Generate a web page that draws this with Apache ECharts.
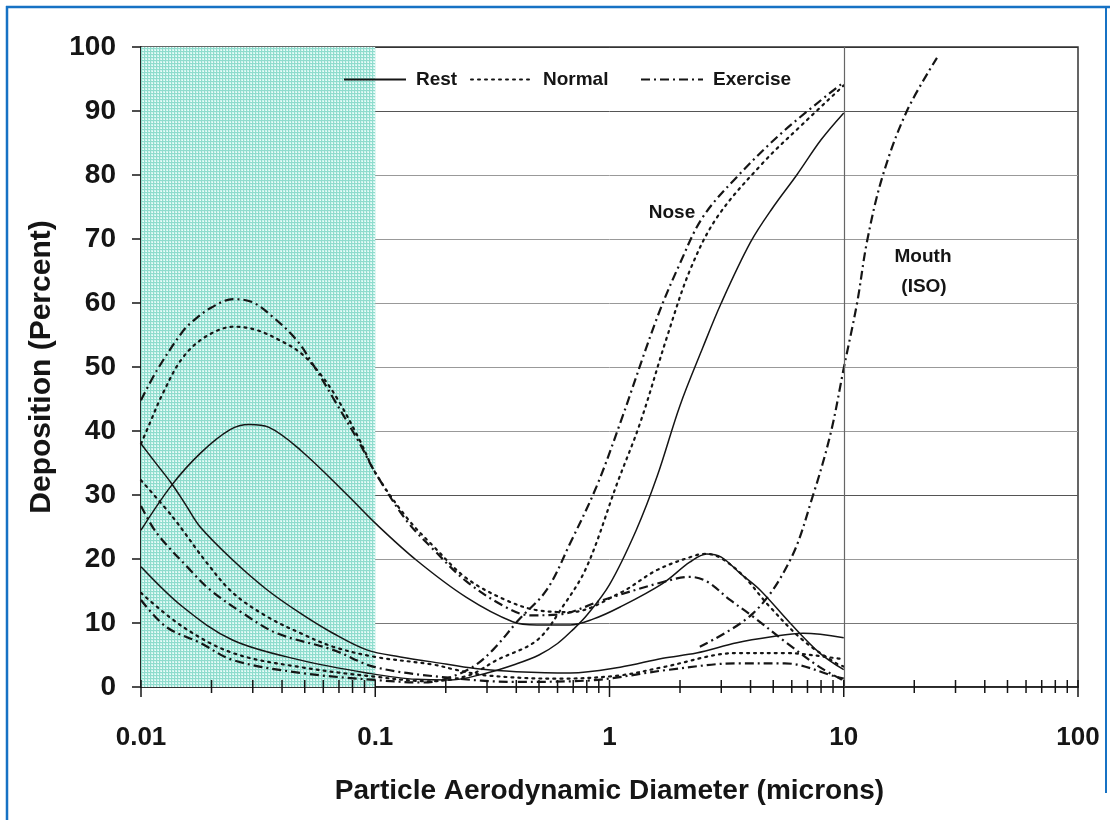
<!DOCTYPE html>
<html><head><meta charset="utf-8">
<script src="https://cdn.jsdelivr.net/npm/echarts@6/dist/echarts.min.js"></script>
<style>html,body{margin:0;padding:0;background:#fff}#c{width:1110px;height:820px}</style>
</head><body><div id="c"></div>
<script>
// ---- tick labels ----
const xTickLabels = ['0.01', '0.1', '1', '10', '100'];
const xMajorTicks = [0.01, 0.1, 1, 10, 100];
const xMinorTicks = [0.02,0.03,0.04,0.05,0.06,0.07,0.08,0.09,
                     0.2,0.3,0.4,0.5,0.6,0.7,0.8,0.9,
                     2,3,4,5,6,7,8,9,
                     20,30,40,50,60,70,80,90];
const legendNames = ['Rest', 'Normal', 'Exercise'];

// ---- data: [diameter (microns), deposition (%)] ----
const lungRest = [[0.01,24.5],[0.0135,31.5],[0.0179,36.5],[0.024,40.2],[0.029,41],[0.035,40.6],[0.048,37],[0.076,30],[0.1,25.6],[0.15,19.8],[0.245,14],[0.386,10.2],[0.49,9.7],[0.68,9.7],[0.85,10.6],[1.11,12.5],[1.69,16.2],[2.2,19.5],[2.6,20.8],[3.0,20.3],[3.6,17.8],[4.38,15.2],[5.9,10],[7.9,5.3],[10,2.7]];
const lungNormal = [[0.01,38],[0.0109,41.2],[0.0124,45.9],[0.0151,51.5],[0.019,54.8],[0.025,56.3],[0.031,55.8],[0.039,54.2],[0.048,52.2],[0.058,49],[0.069,45],[0.086,38.5],[0.1,33.5],[0.136,26.5],[0.177,22],[0.245,17],[0.36,13.6],[0.49,12],[0.68,11.7],[1.11,14.7],[1.6,18.3],[2.35,20.6],[2.6,20.8],[3.5,18.3],[4.84,12.5],[6.7,7.3],[9.3,3.7],[10,3.2]];
const lungExercise = [[0.01,44.8],[0.0117,49.5],[0.0151,55.6],[0.0167,57.2],[0.02,59.3],[0.0247,60.6],[0.03,60.1],[0.0366,57.8],[0.0462,54.2],[0.054,50.5],[0.066,45.2],[0.086,38],[0.1,33.5],[0.136,26],[0.177,21.5],[0.245,16.5],[0.36,12.5],[0.46,11.2],[0.6,11.3],[0.94,13.6],[1.69,16.4],[2.2,17.2],[2.6,16.5],[3.27,13.6],[4.1,11],[5.7,6.9],[7.9,3.1],[10,1]];
const noseRest = [[0.01,18.8],[0.0151,12.5],[0.0247,7.3],[0.048,4.2],[0.092,2.2],[0.15,1.2],[0.21,1.1],[0.3,2.2],[0.4,3.6],[0.5,5.0],[0.6,6.8],[0.7,9.0],[0.8,11.2],[1.0,16],[1.3,24.5],[1.6,33],[2.0,44],[2.5,53],[3.0,60],[4.0,69.5],[5.0,75],[6.3,80],[8.0,85.5],[10,89.7]];
const noseNormal = [[0.01,14.7],[0.0151,9.4],[0.0247,5.3],[0.048,3.1],[0.1,1.6],[0.17,0.9],[0.25,1.8],[0.33,4.2],[0.49,7.3],[0.63,12.5],[0.8,18.8],[1.08,31.9],[1.35,41.2],[1.76,54.7],[2.21,65.2],[2.88,73.4],[4.52,81.9],[6.7,88],[10,94]];
const noseExercise = [[0.01,13.6],[0.0128,9.4],[0.0179,6.9],[0.0247,4.2],[0.048,2.2],[0.1,1.1],[0.16,0.7],[0.2,1.3],[0.26,3.1],[0.318,5.8],[0.41,10.5],[0.54,15.2],[0.68,22.5],[0.88,31.3],[1.11,41.2],[1.6,57.8],[2.0,66.2],[2.5,73.4],[3.5,79.7],[5.6,87],[10,94.5]];
const tracheaRest = [[0.01,38],[0.0115,35.1],[0.0135,31.8],[0.0155,28.5],[0.0179,25],[0.0247,19.8],[0.0345,15.2],[0.048,11.5],[0.066,8.4],[0.092,5.8],[0.128,4.7],[0.2,3.6],[0.28,2.8],[0.4,2.4],[0.68,2.2],[1.11,3.1],[1.69,4.5],[2.35,5.3],[3.5,6.9],[4.84,7.8],[6.7,8.4],[10,7.7]];
const tracheaNormal = [[0.01,32.3],[0.0137,26.5],[0.0191,19.4],[0.0247,14.7],[0.0345,11],[0.048,8.4],[0.066,6.3],[0.1,4.7],[0.177,3.5],[0.22,2.7],[0.3,1.8],[0.6,1.3],[1.1,1.8],[1.69,3.1],[3.5,5.3],[5.6,5.3],[9.3,4.5],[10,4.3]];
const tracheaExercise = [[0.01,28.3],[0.0117,24],[0.0162,18.3],[0.0197,15.2],[0.0273,11.5],[0.038,8.4],[0.066,5.8],[0.1,3.1],[0.2,1.5],[0.4,0.8],[0.8,1],[1.8,2.7],[3.5,3.7],[5.6,3.7],[9.3,1.6],[10,1.3]];
const mouthISO = [[2.43,6.3],[4.1,11.5],[5.9,19.8],[7.4,30],[8.8,39.7],[10,49.8],[11.4,60],[12.6,69.8],[14.7,80],[18.6,90],[25,98.3]];

// ---- styles ----
const FONT = "'Liberation Sans', Arial, sans-serif";
const INK = '#151515';
const styleOf = {
  Rest:     { type: 'solid', width: 1.5 },
  Normal:   { type: [2, 5], width: 2.2, cap: 'round' },
  Exercise: { type: [9, 4, 2, 4], width: 2.2 }
};

function makePattern() {
  const c = document.createElement('canvas');
  c.width = 3; c.height = 3;
  const g = c.getContext('2d');
  g.fillStyle = '#8fdccd'; g.fillRect(0, 0, 3, 3);
  g.fillStyle = '#cff4ee'; g.fillRect(1, 1, 2, 2);
  g.fillStyle = '#effcfa'; g.fillRect(2, 2, 1, 1);
  return c;
}

function lineSeries(name, data) {
  const s = styleOf[name];
  return {
    type: 'line', name: name, data: data, symbol: 'none', showSymbol: false,
    smooth: 0.35, z: 3, silent: true,
    itemStyle: { color: INK },
    lineStyle: { color: INK, width: s.width, type: s.type, cap: s.cap || 'butt' }
  };
}

const chart = echarts.init(document.getElementById('c'), null, { renderer: 'canvas' });

const splitColors = ['#888', '#777', '#999', '#555', '#999', '#999', '#999', '#999', '#999', '#555', '#333'];

const option = {
  animation: false,
  backgroundColor: '#ffffff',
  grid: { left: 141, right: 32, top: 47, bottom: 133, show: true, borderColor: '#333', borderWidth: 1.5, backgroundColor: 'transparent' },
  legend: legendNames.map((n, i) => ({
    data: [n], left: [343, 470, 640][i], top: 70, padding: 0,
    itemWidth: 62, itemHeight: 14, selectedMode: false,
    itemStyle: { color: 'rgba(0,0,0,0)', borderColor: 'rgba(0,0,0,0)', borderWidth: 0, opacity: 0 },
    textStyle: { fontFamily: FONT, fontSize: 19, fontWeight: 'bold', color: INK, padding: [0, 0, 0, 5] }
  })),
  xAxis: {
    type: 'log', logBase: 10, min: 0.01, max: 100,
    name: 'Particle Aerodynamic Diameter (microns)', nameLocation: 'middle', nameGap: 90,
    nameTextStyle: { fontFamily: FONT, fontSize: 28, fontWeight: 'bold', color: INK },
    axisLine: { show: true, lineStyle: { color: INK, width: 1.5 } },
    axisTick: { show: false }, minorTick: { show: false },
    splitLine: { show: false }, minorSplitLine: { show: false },
    axisLabel: {
      margin: 38, fontFamily: FONT, fontSize: 26, fontWeight: 'bold', color: INK,
      formatter: v => { const i = Math.round(Math.log10(v)) + 2; return xTickLabels[i] !== undefined ? xTickLabels[i] : ''; }
    }
  },
  yAxis: {
    type: 'value', min: 0, max: 100, interval: 10,
    name: 'Deposition (Percent)', nameLocation: 'middle', nameGap: 84, nameRotate: 90,
    nameTextStyle: { fontFamily: FONT, fontSize: 30, fontWeight: 'bold', color: INK },
    axisLine: { show: true, lineStyle: { color: INK, width: 1.5 } },
    axisTick: { show: true, length: 9, lineStyle: { color: INK, width: 1.5 } },
    splitLine: { show: true, lineStyle: { color: splitColors, width: 1 } },
    axisLabel: { margin: 25, fontFamily: FONT, fontSize: 28, fontWeight: 'bold', color: INK }
  },
  graphic: [
    { type: 'line', shape: { x1: 7, y1: 6, x2: 7, y2: 820 }, style: { stroke: '#1672c4', lineWidth: 2.5 } },
    { type: 'line', shape: { x1: 6, y1: 7, x2: 1110, y2: 7 }, style: { stroke: '#1672c4', lineWidth: 2.5 } },
    { type: 'line', shape: { x1: 1106, y1: 6, x2: 1106, y2: 793 }, style: { stroke: '#1672c4', lineWidth: 2 } },
    { type: 'text', x: 260, y: 388, style: { text: 'Lung', font: 'bold 19px ' + FONT, fill: '#2a4a48', align: 'center', verticalAlign: 'middle' } },
    { type: 'text', x: 318, y: 580, style: { text: 'Trachea', font: 'bold 19px ' + FONT, fill: '#2a4a48', align: 'center', verticalAlign: 'middle' } },
    { type: 'text', x: 672, y: 213, style: { text: 'Nose', font: 'bold 19px ' + FONT, fill: INK, align: 'center', verticalAlign: 'middle' } },
    { type: 'text', x: 923, y: 257, style: { text: 'Mouth', font: 'bold 19px ' + FONT, fill: INK, align: 'center', verticalAlign: 'middle' } },
    { type: 'text', x: 924, y: 287, style: { text: '(ISO)', font: 'bold 19px ' + FONT, fill: INK, align: 'center', verticalAlign: 'middle' } }
  ],
  series: [
    {
      type: 'line', name: 'region', data: [], z: -1, silent: true,
      markArea: {
        silent: true,
        itemStyle: { color: { image: makePattern(), repeat: 'repeat' }, opacity: 1 },
        data: [[{ xAxis: 0.01, yAxis: 0 }, { xAxis: 0.1, yAxis: 100 }]]
      },
      markLine: {
        silent: true, symbol: 'none', label: { show: false },
        lineStyle: { color: '#666', width: 1.2, type: 'solid' },
        data: [{ xAxis: 10 }]
      }
    },
    lineSeries('Rest', lungRest),
    lineSeries('Normal', lungNormal),
    lineSeries('Exercise', lungExercise),
    lineSeries('Rest', noseRest),
    lineSeries('Normal', noseNormal),
    lineSeries('Exercise', noseExercise),
    lineSeries('Rest', tracheaRest),
    lineSeries('Normal', tracheaNormal),
    lineSeries('Exercise', tracheaExercise),
    Object.assign(lineSeries('Exercise', mouthISO), { name: 'Mouth (ISO)' }),
    {
      type: 'custom', name: 'xticks', coordinateSystem: 'cartesian2d', silent: true, clip: false, z: 6,
      data: xMajorTicks.map(v => [v, 0, 1]).concat(xMinorTicks.map(v => [v, 0, 0])),
      renderItem: (params, api) => {
        const p = api.coord([api.value(0), 0]);
        const major = api.value(2) === 1;
        return { type: 'line', shape: { x1: p[0], y1: p[1] - 7, x2: p[0], y2: p[1] + (major ? 10 : 6) },
                 style: { stroke: INK, lineWidth: 1.5 } };
      }
    }
  ]
};
chart.setOption(option);
</script>
</body></html>
